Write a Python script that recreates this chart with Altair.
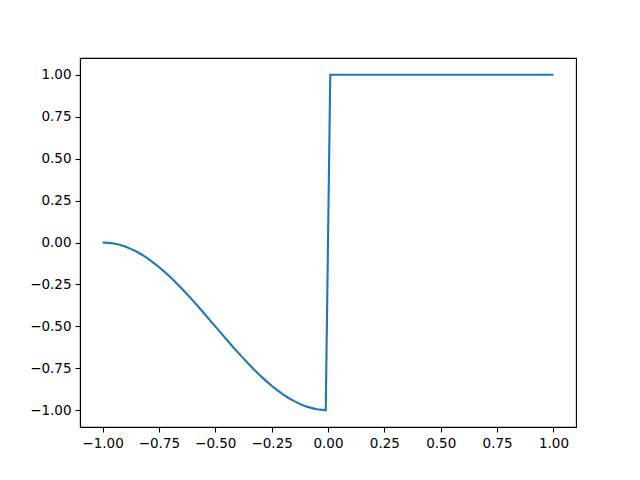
import altair as alt
import pandas as pd

xs = [-1.000, -0.975, -0.950, -0.925, -0.900, -0.875, -0.850, -0.825, -0.800, -0.775,
      -0.750, -0.725, -0.700, -0.675, -0.650, -0.625, -0.600, -0.575, -0.550, -0.525,
      -0.500, -0.475, -0.450, -0.425, -0.400, -0.375, -0.350, -0.325, -0.300, -0.275,
      -0.250, -0.225, -0.200, -0.175, -0.150, -0.125, -0.100, -0.075, -0.050, -0.025,
      -0.010, 0.010, 0.500, 1.000]
ys = [0.000, -0.002, -0.006, -0.014, -0.024, -0.038, -0.054, -0.073, -0.095, -0.120,
      -0.146, -0.175, -0.206, -0.238, -0.273, -0.309, -0.345, -0.383, -0.422, -0.461,
      -0.500, -0.539, -0.578, -0.617, -0.655, -0.691, -0.727, -0.762, -0.794, -0.825,
      -0.854, -0.880, -0.905, -0.927, -0.946, -0.962, -0.976, -0.986, -0.994, -0.998,
      -1.000, 1.000, 1.000, 1.000]
ticks = [-1.00, -0.75, -0.50, -0.25, 0.00, 0.25, 0.50, 0.75, 1.00]

df = pd.DataFrame({"x": xs, "y": ys, "o": list(range(len(xs)))})

axis_common = dict(
    values=ticks, format=".2f", grid=False, title=None,
    labelFont="DejaVu Sans", labelFontSize=13.5, labelColor="black",
    tickColor="black", tickSize=5, tickWidth=1.1, labelPadding=4,
    domainColor="black", domainWidth=1.1,
)

chart = alt.Chart(df).mark_line(color="#1f77b4", strokeWidth=2.1).encode(
    x=alt.X("x:Q", scale=alt.Scale(domain=[-1.1, 1.1], nice=False, zero=False),
            axis=alt.Axis(**axis_common)),
    y=alt.Y("y:Q", scale=alt.Scale(domain=[-1.1, 1.1], nice=False, zero=False),
            axis=alt.Axis(**axis_common)),
    order="o:Q",
).properties(
    width=496, height=369,
    autosize=alt.AutoSizeParams(type="none"),
    padding={"left": 72, "top": 50, "right": 50, "bottom": 40},
).configure_view(stroke="black", strokeWidth=1.1)

chart.save("out.html", embed_options={"renderer": "svg", "actions": False})
